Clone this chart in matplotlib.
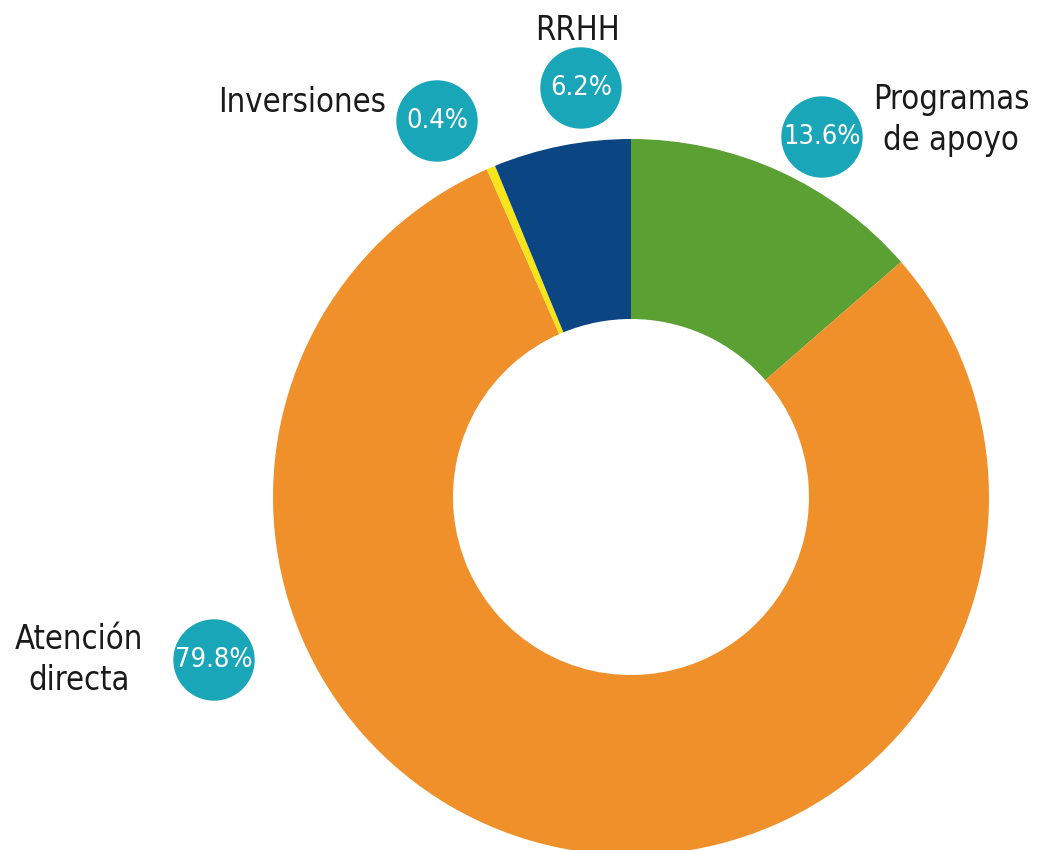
import matplotlib
matplotlib.use("Agg")
import matplotlib.pyplot as plt
from matplotlib.patches import Circle

# data
labels = ["Programas\nde apoyo", "Atención\ndirecta", "Inversiones", "RRHH"]
values = [13.6, 79.8, 0.4, 6.2]
pct_text = ["13.6%", "79.8%", "0.4%", "6.2%"]
colors = ["#5ba033", "#f0902b", "#f7e51a", "#0b4683"]

teal = "#19a6b9"
W, H = 1040, 850

plt.rcParams['font.family'] = ['DejaVu Sans']

fig = plt.figure(figsize=(W / 100, H / 100), dpi=100)
ax = fig.add_axes([0, 0, 1, 1])
ax.set_xlim(0, W)
ax.set_ylim(0, H)
ax.set_aspect('equal')
ax.axis('off')

cx, cy = 631, H - 497
ax.pie(values, colors=colors, startangle=90, counterclock=False,
       center=(cx, cy), radius=358,
       wedgeprops=dict(width=180, linewidth=0))
ax.set_xlim(0, W)
ax.set_ylim(0, H)

# label bubbles (pixel positions from the top-left corner)
bubble_pos = [(822, 137), (214, 660), (437, 121), (581, 88)]
name_pos = [(951, 120, 'center'), (79, 660, 'center'), (386, 102, 'right'), (577, 30, 'center')]

for txt, pct, (bx, by), (nx, ny, ha) in zip(labels, pct_text, bubble_pos, name_pos):
    ax.add_patch(Circle((bx, H - by), 40, color=teal, zorder=3))
    ax.text(bx, H - by, pct, color='white', fontsize=19.5, ha='center', va='center',
            fontstretch='condensed', zorder=4)
    ax.text(nx, H - ny, txt, color='#1a1a1a', fontsize=23.5, ha=ha, va='center',
            multialignment='center', fontstretch='condensed', linespacing=1.3)

fig.savefig("out.png", dpi=100)
